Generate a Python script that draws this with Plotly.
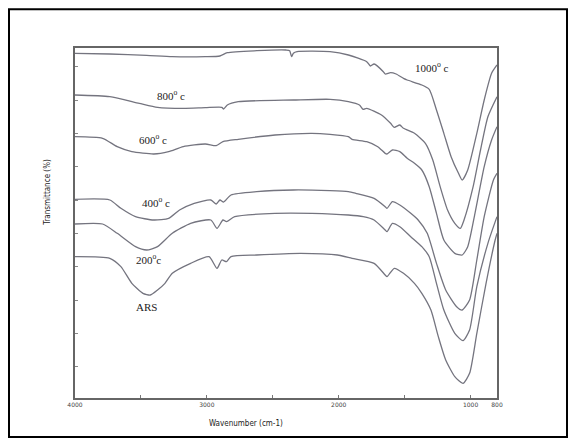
import plotly.graph_objects as go

# Wavenumbers (cm-1) and transmittance readings (arbitrary %, offset spectra)
wn_1000 = [4000, 3736, 3457, 3262, 3012, 2901, 2845, 2622, 2400, 2372, 2358, 2344, 2316, 2066, 1927, 1788, 1760, 1732, 1662, 1648, 1607, 1565, 1509, 1481, 1370, 1314, 1259, 1203, 1148, 1092, 1064, 1022, 953, 897, 841, 800]
t_1000 = [104.0, 103.8, 103.4, 103.0, 103.0, 103.2, 104.2, 104.8, 105.0, 104.8, 103.0, 104.0, 104.5, 104.5, 103.5, 101.5, 100.2, 100.8, 98.5, 97.8, 98.2, 97.8, 96.5, 96.0, 94.5, 93.2, 87.0, 80.0, 73.0, 68.0, 66.0, 69.0, 80.0, 90.0, 98.0, 100.5]

wn_800 = [4000, 3736, 3513, 3374, 3179, 3012, 2887, 2873, 2845, 2762, 2344, 2066, 1927, 1843, 1815, 1788, 1676, 1607, 1579, 1537, 1509, 1426, 1343, 1287, 1231, 1175, 1120, 1078, 1050, 981, 925, 869, 800]
t_800 = [91.5, 91.0, 89.0, 87.8, 87.5, 87.7, 87.8, 87.3, 88.5, 89.5, 90.0, 90.2, 89.5, 88.5, 87.2, 87.5, 85.5, 83.0, 81.8, 82.5, 81.5, 80.0, 77.0, 72.0, 64.0, 57.0, 53.0, 51.5, 54.0, 64.0, 75.0, 85.0, 91.0]

wn_600 = [4000, 3791, 3680, 3569, 3402, 3290, 3179, 3012, 2929, 2878, 2762, 2483, 2205, 2066, 1927, 1899, 1788, 1704, 1648, 1634, 1593, 1537, 1481, 1426, 1370, 1314, 1259, 1203, 1120, 1064, 1022, 967, 897, 841, 800]
t_600 = [79.0, 78.5, 76.0, 74.5, 73.8, 74.5, 76.0, 76.8, 76.3, 77.5, 78.2, 79.5, 80.0, 79.7, 79.0, 78.2, 77.5, 76.0, 74.0, 73.8, 75.0, 74.5, 72.5, 71.0, 69.0, 64.0, 56.0, 48.0, 44.0, 43.5, 46.0, 56.0, 70.0, 78.0, 82.0]

wn_400 = [4000, 3736, 3652, 3541, 3402, 3290, 3207, 3096, 2970, 2929, 2901, 2873, 2817, 2622, 2344, 2066, 1927, 1871, 1732, 1648, 1634, 1593, 1537, 1454, 1398, 1329, 1259, 1189, 1106, 1064, 1008, 953, 897, 827, 800]
t_400 = [60.2, 60.0, 57.5, 55.0, 54.0, 54.5, 57.0, 59.0, 60.0, 58.8, 60.0, 59.4, 61.5, 62.5, 63.0, 62.8, 62.5, 62.0, 60.5, 58.0, 57.5, 59.5, 58.5, 56.0, 54.0, 50.0, 41.0, 33.0, 28.0, 27.0, 30.0, 42.0, 55.0, 66.0, 68.0]

wn_200 = [4000, 3791, 3680, 3541, 3457, 3374, 3262, 3123, 2970, 2923, 2878, 2851, 2789, 2483, 2205, 1927, 1815, 1732, 1648, 1634, 1593, 1537, 1454, 1370, 1314, 1259, 1203, 1120, 1058, 1008, 953, 869, 800]
t_200 = [52.8, 52.8, 50.0, 46.0, 45.0, 46.0, 50.0, 53.0, 54.0, 51.5, 54.0, 53.5, 55.0, 56.0, 56.0, 55.5, 55.0, 54.0, 51.0, 50.5, 53.0, 52.0, 49.0, 46.0, 43.0, 35.0, 27.0, 20.0, 17.8, 21.0, 34.0, 47.0, 55.0]

wn_ars = [4000, 3736, 3652, 3569, 3485, 3429, 3374, 3318, 3262, 3123, 2984, 2923, 2887, 2851, 2817, 2622, 2288, 2010, 1899, 1732, 1648, 1634, 1579, 1509, 1426, 1370, 1301, 1245, 1189, 1120, 1058, 1008, 953, 883, 814, 800]
t_ars = [43.0, 42.5, 40.0, 35.0, 32.0, 31.5, 33.0, 35.0, 38.0, 41.0, 43.0, 39.5, 42.0, 41.5, 43.0, 43.5, 44.0, 43.5, 42.5, 41.0, 37.5, 37.0, 39.5, 38.0, 35.0, 32.0, 27.0, 19.0, 12.0, 7.0, 5.0, 8.0, 20.0, 35.0, 48.0, 50.0]

series = [
    ("1000°c", wn_1000, t_1000),
    ("800°c", wn_800, t_800),
    ("600°c", wn_600, t_600),
    ("400°c", wn_400, t_400),
    ("200°c", wn_200, t_200),
    ("ARS", wn_ars, t_ars),
]

# label texts and positions (wavenumber, transmittance)
label_text = ["1000<sup>o</sup> c", "800<sup>o</sup> c", "600<sup>o</sup> c", "400<sup>o</sup> c", "200<sup>o</sup>c", "ARS"]
label_wn = [1295, 3269, 3406, 3383, 3444, 3459]
label_t = [99.9, 91.5, 78.3, 59.4, 42.3, 27.9]

x_tickvals = [4000, 3000, 2000, 1000, 800]
x_ticktext = ["4000", "3000", "2000", "1000", "800"]
x_minor_vals = [3500, 2500, 1500]

fig = go.Figure()
for name, wn, t in series:
    fig.add_trace(go.Scatter(x=wn, y=t, mode="lines", name=name,
                             line=dict(color="#74747f", width=1.3, shape="spline", smoothing=0.6),
                             showlegend=False, hoverinfo="skip"))

for txt, xw, yt in zip(label_text, label_wn, label_t):
    fig.add_annotation(x=xw, y=yt, text=txt, showarrow=False,
                       font=dict(family="Liberation Serif", size=11, color="#222"))

fig.add_annotation(xref="paper", yref="paper", x=0.405, y=-0.072, text="Wavenumber (cm-1)",
                   xanchor="center", yanchor="middle",
                   showarrow=False, font=dict(family="DejaVu Sans Condensed", size=8, color="#222"))
fig.add_annotation(xref="paper", yref="paper", x=-0.064, y=0.589, text="Transmittance (%)",
                   xanchor="center", yanchor="middle",
                   textangle=-90, showarrow=False,
                   font=dict(family="DejaVu Sans Condensed", size=8, color="#222"))

# outer black border of the picture
fig.add_shape(type="rect", xref="paper", yref="paper", x0=-0.1564, x1=1.1659, y0=-0.1114, y1=1.111,
              line=dict(color="black", width=2))

fig.update_layout(
    width=560, height=430,
    margin=dict(l=67, r=71, t=40, b=40),
    paper_bgcolor="white", plot_bgcolor="white",
    xaxis=dict(range=[4000, 800], tickvals=x_tickvals, ticktext=x_ticktext,
               ticks="inside", ticklen=3, tickcolor="#777", showgrid=False, zeroline=False,
               minor=dict(tickvals=x_minor_vals, ticks="inside", ticklen=3, tickcolor="#777"),
               showline=True, linecolor="#666", linewidth=1.5, mirror=True,
               tickfont=dict(family="DejaVu Sans", size=6, color="#444")),
    yaxis=dict(range=[0.6, 105.6], dtick=10, ticks="inside", ticklen=3, tickcolor="#888",
               showticklabels=False, showgrid=False, zeroline=False,
               showline=True, linecolor="#666", linewidth=1.5, mirror=True),
)

fig.write_html("out.html")
